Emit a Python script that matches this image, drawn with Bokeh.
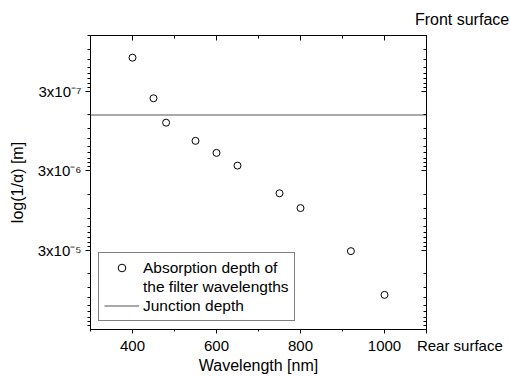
from bokeh.plotting import figure
from bokeh.models import (Range1d, FixedTicker, CustomJSTickFormatter, LinearAxis, LogAxis,
                          Legend, LegendItem)
from bokeh.embed import file_html
from bokeh.resources import INLINE

# ---- data ----
wavelength_nm = [400, 450, 480, 550, 600, 650, 750, 800, 920, 1000]
absorption_depth_m = [1.14e-7, 3.7e-7, 7.5e-7, 1.27e-6, 1.8e-6, 2.6e-6, 5.8e-6, 8.9e-6, 3.1e-5, 1.1e-4]
junction_depth_m = 6.0e-7

x_limits = [300, 1100]
y_limits = [3e-4, 6e-8]          # bottom, top: depth grows downward

# bottom axis: numeric ticks plus "Rear surface" at the right-hand corner
x_bottom_ticks = [400, 600, 800, 1000, 1100]
x_bottom_labels = ["400", "600", "800", "1000", "\u00a0" * 16 + "Rear surface"]
x_bottom_minor = [300, 500, 700, 900]
# top axis: only "Front surface" at the right-hand corner
x_top_ticks = [400, 600, 800, 1000, 1100]
x_top_labels = ["", "", "", "", "\u00a0" * 16 + "Front surface"]
x_top_minor = [300, 500, 700, 900]

y_major_ticks = [3e-7, 3e-6, 3e-5]
y_tick_labels = ["3x10⁻⁷", "3x10⁻⁶", "3x10⁻⁵"]
y_minor_bases = [3e-8, 3e-7, 3e-6, 3e-5]
y_minor_ticks = [b * k for b in y_minor_bases for k in range(2, 10)]

FONT = "Liberation Sans"
JCOLOR = "#8c8c8c"

p = figure(width=510, height=376, output_backend="svg", toolbar_location=None,
           x_range=Range1d(*x_limits), y_range=Range1d(*y_limits), y_axis_type="log",
           min_border_left=90, min_border_right=84, min_border_top=35, min_border_bottom=46,
           x_axis_label="Wavelength [nm]", y_axis_label="log(1/α) [m]")
p.grid.visible = False
p.outline_line_color = "black"
p.background_fill_color = "white"
p.border_fill_color = "white"


def lookup_fmt(vals, labels):
    return CustomJSTickFormatter(args=dict(vals=vals, labs=labels), code="""
for (let i = 0; i < vals.length; i++) {
  if (Math.abs(vals[i] - tick) <= 1e-6 * Math.abs(vals[i])) { return labs[i]; }
}
return "";
""")


def style(ax, inward, major, minor, size="15px"):
    ax.axis_line_color = "black"
    ax.major_tick_line_color = "black"
    ax.minor_tick_line_color = "black"
    if inward:
        ax.major_tick_in, ax.major_tick_out = major, 0
        ax.minor_tick_in, ax.minor_tick_out = minor, 0
    else:
        ax.major_tick_in, ax.major_tick_out = 0, major
        ax.minor_tick_in, ax.minor_tick_out = 0, minor
    ax.major_label_text_font = FONT
    ax.major_label_text_font_size = size
    ax.major_label_text_color = "black"
    ax.axis_label_text_font = FONT
    ax.axis_label_text_font_size = "16px"
    ax.axis_label_text_font_style = "normal"
    ax.axis_label_text_color = "black"


xb = p.xaxis[0]
xb.ticker = FixedTicker(ticks=x_bottom_ticks, minor_ticks=x_bottom_minor)
xb.formatter = lookup_fmt(x_bottom_ticks, x_bottom_labels)
style(xb, False, 4, 2)
xb.major_label_standoff = 3
xb.axis_label_standoff = 0

yl = p.yaxis[0]
yl.ticker = FixedTicker(ticks=y_major_ticks, minor_ticks=y_minor_ticks)
yl.formatter = lookup_fmt(y_major_ticks, y_tick_labels)
style(yl, False, 5, 3)
yl.major_label_standoff = 4
yl.axis_label_standoff = 9

xt = LinearAxis(ticker=FixedTicker(ticks=x_top_ticks, minor_ticks=x_top_minor),
                formatter=lookup_fmt(x_top_ticks, x_top_labels))
style(xt, True, 5, 3, size="16px")
xt.major_label_standoff = 8
p.add_layout(xt, "above")

yr = LogAxis(ticker=FixedTicker(ticks=y_major_ticks, minor_ticks=y_minor_ticks),
             formatter=CustomJSTickFormatter(code="return '';"))
style(yr, True, 5, 3)
p.add_layout(yr, "right")

# junction depth: horizontal line across the whole wavelength range
junction = p.line(x=x_limits, y=[junction_depth_m, junction_depth_m],
                  line_color=JCOLOR, line_width=1.3)

circles = p.scatter(wavelength_nm, absorption_depth_m, marker="circle", size=7,
                    line_color="black", fill_color="white", line_width=1)
spacer = p.scatter([], [], marker="circle", size=0, alpha=0)

legend = Legend(items=[LegendItem(label="Absorption depth of", renderers=[circles]),
                       LegendItem(label="the filter wavelengths", renderers=[spacer]),
                       LegendItem(label="Junction depth", renderers=[junction])],
                location=(8, 8), margin=0, padding=5, spacing=0,
                glyph_width=35, glyph_height=19, label_height=19, label_standoff=4,
                label_text_font=FONT, label_text_font_size="15.5px", label_text_color="black",
                border_line_color="black", border_line_width=1,
                background_fill_color="white", background_fill_alpha=1)
p.add_layout(legend)

open("out.html", "w").write(file_html(p, INLINE))
